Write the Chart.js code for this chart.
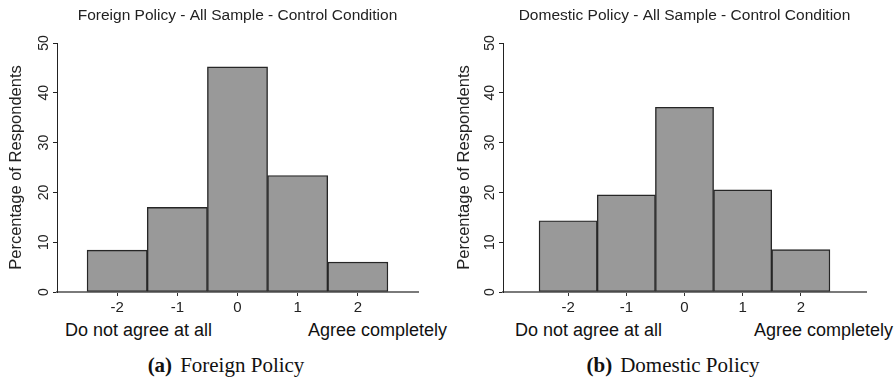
<!DOCTYPE html>
<html>
<head>
<meta charset="utf-8">
<script src="https://cdn.jsdelivr.net/npm/chart.js@4/dist/chart.umd.min.js"></script>
<style>
  body { margin: 0; background: #fff; }
  #page { position: relative; width: 896px; height: 378px; overflow: hidden; }
  .panel { position: absolute; top: 0; width: 448px; height: 378px; }
  .panel canvas { position: absolute; left: 0; top: 0; }
  .endLabel { position: absolute; top: 320px; font: 18px "Liberation Sans", Arial, sans-serif; color: #111; white-space: nowrap; }
  .caption { position: absolute; top: 353px; transform: translateX(-50%); font: 21px "Liberation Serif", "Times New Roman", serif; color: #111; white-space: nowrap; }
  .caption b { font-weight: bold; margin-right: 8px; }
</style>
</head>
<body>
<div id="page">
  <div class="panel" style="left:0px">
    <canvas id="foreignChart" width="448" height="320"></canvas>
    <div class="endLabel" style="left:65px">Do not agree at all</div>
    <div class="endLabel" style="right:1px">Agree completely</div>
    <div class="caption" style="left:226px"><b>(a)</b>Foreign Policy</div>
  </div>
  <div class="panel" style="left:448px">
    <canvas id="domesticChart" width="448" height="320"></canvas>
    <div class="endLabel" style="left:67px">Do not agree at all</div>
    <div class="endLabel" style="right:3px">Agree completely</div>
    <div class="caption" style="left:225px"><b>(b)</b>Domestic Policy</div>
  </div>
</div>
<script>
'use strict';

// data
var scoreLevels = [-2, -1, 0, 1, 2];
var foreignPct = [8.4, 17.0, 45.2, 23.4, 6.0];
var domesticPct = [14.3, 19.5, 37.1, 20.5, 8.5];
var yTicks = [0, 10, 20, 30, 40, 50];

var foreignTitle = 'Foreign Policy - All Sample - Control Condition';
var domesticTitle = 'Domestic Policy - All Sample - Control Condition';
var yTitle = 'Percentage of Respondents';

var sans = '"Liberation Sans", Arial, sans-serif';

// title centred over the plot area
var plotTitle = {
    id: 'plotTitle',
    afterDraw: function (chart, args, opts) {
        var ctx = chart.ctx;
        var area = chart.chartArea;
        ctx.save();
        ctx.font = '15.5px ' + sans;
        ctx.fillStyle = '#222';
        ctx.textAlign = 'center';
        ctx.textBaseline = 'middle';
        ctx.fillText(opts.text, (area.left + area.right) / 2, 16);
        ctx.restore();
    }
};

function makeHistogram(canvasId, values, title, xRange, yAxisWidth) {
    var points = [];
    for (var i = 0; i < scoreLevels.length; i++) {
        points.push({ x: scoreLevels[i], y: values[i] });
    }
    var ctx = document.getElementById(canvasId).getContext('2d');
    return new Chart(ctx, {
        type: 'bar',
        data: {
            datasets: [{
                data: points,
                backgroundColor: '#999999',
                borderColor: '#262626',
                borderWidth: 1.4,
                borderSkipped: false,
                barPercentage: 1,
                categoryPercentage: 1
            }]
        },
        options: {
            responsive: false,
            animation: false,
            devicePixelRatio: 1,
            layout: { padding: { top: 43, right: 30, bottom: 0, left: 0 } },
            plugins: {
                legend: { display: false },
                tooltip: { enabled: false },
                plotTitle: { text: title }
            },
            scales: {
                x: {
                    type: 'linear',
                    offset: false,
                    min: -xRange,
                    max: xRange,
                    afterBuildTicks: function (scale) {
                        scale.ticks = scoreLevels.map(function (v) { return { value: v }; });
                    },
                    afterFit: function (scale) { scale.height = 28; },
                    ticks: {
                        font: { family: sans, size: 15 },
                        color: '#222',
                        padding: 3,
                        maxRotation: 0
                    },
                    grid: { offset: false, drawOnChartArea: false, drawTicks: true, tickLength: 4, color: '#333' },
                    border: { display: true, color: '#7a7a7a', width: 2 }
                },
                y: {
                    type: 'linear',
                    min: 0,
                    max: 50,
                    afterBuildTicks: function (scale) {
                        scale.ticks = yTicks.map(function (v) { return { value: v }; });
                    },
                    afterFit: function (scale) { scale.width = yAxisWidth; },
                    ticks: {
                        font: { family: sans, size: 14 },
                        color: '#222',
                        padding: 1,
                        minRotation: 90,
                        maxRotation: 90,
                        crossAlign: 'center'
                    },
                    grid: { drawOnChartArea: false, drawTicks: true, tickLength: 4, color: '#222' },
                    border: { display: true, color: '#222', width: 1 },
                    title: {
                        display: true,
                        text: yTitle,
                        font: { family: sans, size: 16.5 },
                        color: '#222',
                        padding: { top: 7, bottom: 0 }
                    }
                }
            }
        },
        plugins: [plotTitle]
    });
}

makeHistogram('foreignChart', foreignPct, foreignTitle, 3.0, 57);
makeHistogram('domesticChart', domesticPct, domesticTitle, 3.12, 55);
</script>
</body>
</html>
